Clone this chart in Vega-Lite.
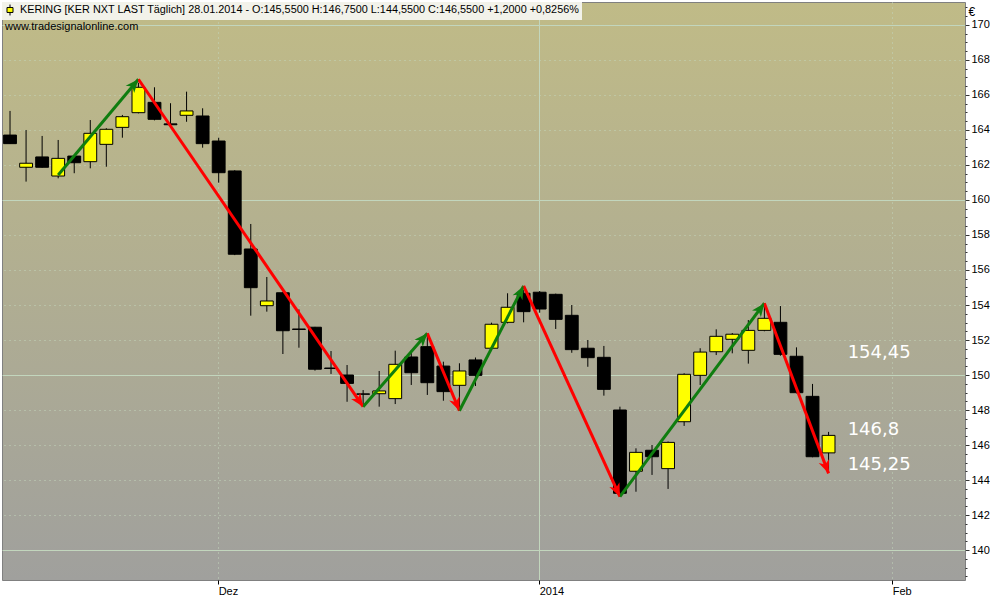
{
  "$schema": "https://vega.github.io/schema/vega-lite/v6.json",
  "width": 963,
  "height": 578,
  "padding": {"left": 2, "top": 2, "right": 0, "bottom": 0},
  "background": "#ffffff",
  "title": {
    "text": "www.tradesignalonline.com",
    "anchor": "start",
    "frame": "group",
    "offset": -30,
    "dx": 3,
    "font": "Liberation Sans",
    "fontSize": 11,
    "fontWeight": "normal",
    "color": "#000000"
  },
  "datasets": {
    "candles": [
      {"date": "2013-11-13", "open": 163.71, "high": 165.09, "low": 163.2, "close": 163.22},
      {"date": "2013-11-14", "open": 161.87, "high": 164.0, "low": 161.05, "close": 162.1},
      {"date": "2013-11-15", "open": 162.46, "high": 163.66, "low": 161.85, "close": 161.87},
      {"date": "2013-11-18", "open": 161.37, "high": 163.43, "low": 161.24, "close": 162.38},
      {"date": "2013-11-19", "open": 162.51, "high": 162.55, "low": 161.53, "close": 162.13},
      {"date": "2013-11-20", "open": 162.19, "high": 164.57, "low": 161.81, "close": 163.81},
      {"date": "2013-11-21", "open": 163.18, "high": 164.1, "low": 161.9, "close": 164.04},
      {"date": "2013-11-22", "open": 164.15, "high": 164.86, "low": 163.56, "close": 164.76},
      {"date": "2013-11-25", "open": 164.99, "high": 166.7, "low": 164.95, "close": 166.44},
      {"date": "2013-11-26", "open": 165.58, "high": 166.44, "low": 164.55, "close": 164.61},
      {"date": "2013-11-27", "open": 164.35, "high": 165.53, "low": 164.2, "close": 164.3},
      {"date": "2013-11-28", "open": 164.84, "high": 166.19, "low": 164.47, "close": 165.09},
      {"date": "2013-11-29", "open": 164.8, "high": 165.24, "low": 162.99, "close": 163.22},
      {"date": "2013-12-02", "open": 163.37, "high": 163.56, "low": 160.99, "close": 161.56},
      {"date": "2013-12-03", "open": 161.66, "high": 161.7, "low": 156.85, "close": 156.9},
      {"date": "2013-12-04", "open": 157.2, "high": 158.63, "low": 153.39, "close": 154.99},
      {"date": "2013-12-05", "open": 153.96, "high": 155.6, "low": 153.62, "close": 154.23},
      {"date": "2013-12-06", "open": 154.7, "high": 154.75, "low": 151.2, "close": 152.53},
      {"date": "2013-12-09", "open": 152.63, "high": 153.75, "low": 151.56, "close": 152.6},
      {"date": "2013-12-10", "open": 152.73, "high": 152.75, "low": 150.25, "close": 150.33},
      {"date": "2013-12-11", "open": 150.4, "high": 151.37, "low": 150.06, "close": 150.37},
      {"date": "2013-12-12", "open": 150.0, "high": 150.57, "low": 148.47, "close": 149.52},
      {"date": "2013-12-13", "open": 148.92, "high": 149.14, "low": 148.29, "close": 148.9},
      {"date": "2013-12-16", "open": 148.93, "high": 150.23, "low": 148.19, "close": 149.09},
      {"date": "2013-12-17", "open": 148.65, "high": 151.39, "low": 148.34, "close": 150.61},
      {"date": "2013-12-18", "open": 151.03, "high": 151.4, "low": 149.43, "close": 150.13},
      {"date": "2013-12-19", "open": 151.62, "high": 152.29, "low": 148.86, "close": 149.56},
      {"date": "2013-12-20", "open": 150.51, "high": 150.76, "low": 148.53, "close": 149.05},
      {"date": "2013-12-23", "open": 149.41, "high": 150.67, "low": 148.0, "close": 150.23},
      {"date": "2013-12-24", "open": 150.86, "high": 151.0, "low": 149.37, "close": 149.98},
      {"date": "2013-12-27", "open": 151.53, "high": 152.99, "low": 151.5, "close": 152.9},
      {"date": "2013-12-30", "open": 153.01, "high": 154.67, "low": 152.95, "close": 153.87},
      {"date": "2013-12-31", "open": 154.67, "high": 154.85, "low": 153.01, "close": 153.62},
      {"date": "2014-01-02", "open": 154.73, "high": 154.8, "low": 153.56, "close": 153.77},
      {"date": "2014-01-03", "open": 154.61, "high": 154.65, "low": 152.63, "close": 153.18},
      {"date": "2014-01-06", "open": 153.41, "high": 154.0, "low": 151.27, "close": 151.45},
      {"date": "2014-01-07", "open": 151.53, "high": 152.0, "low": 150.47, "close": 150.99},
      {"date": "2014-01-08", "open": 151.01, "high": 151.66, "low": 148.82, "close": 149.18},
      {"date": "2014-01-09", "open": 148.0, "high": 148.19, "low": 143.05, "close": 143.24},
      {"date": "2014-01-10", "open": 144.5, "high": 145.81, "low": 143.33, "close": 145.58},
      {"date": "2014-01-13", "open": 145.7, "high": 146.0, "low": 144.29, "close": 145.33},
      {"date": "2014-01-14", "open": 144.65, "high": 146.2, "low": 143.49, "close": 146.15},
      {"date": "2014-01-15", "open": 147.33, "high": 150.1, "low": 147.09, "close": 150.04},
      {"date": "2014-01-16", "open": 149.98, "high": 151.53, "low": 149.43, "close": 151.31},
      {"date": "2014-01-17", "open": 151.33, "high": 152.61, "low": 151.14, "close": 152.21},
      {"date": "2014-01-20", "open": 152.04, "high": 152.4, "low": 151.24, "close": 152.33},
      {"date": "2014-01-21", "open": 151.41, "high": 153.14, "low": 150.65, "close": 152.55},
      {"date": "2014-01-22", "open": 152.55, "high": 154.0, "low": 152.5, "close": 153.24},
      {"date": "2014-01-23", "open": 153.01, "high": 153.94, "low": 151.1, "close": 151.18},
      {"date": "2014-01-24", "open": 151.07, "high": 151.58, "low": 148.95, "close": 148.99},
      {"date": "2014-01-27", "open": 148.78, "high": 149.49, "low": 145.3, "close": 145.33},
      {"date": "2014-01-28", "open": 145.55, "high": 146.75, "low": 144.55, "close": 146.55}
    ],
    "swings": [
      {"d1": "2013-11-18", "v1": 161.43, "d2": "2013-11-25", "v2": 166.9, "dir": "up"},
      {"d1": "2013-11-25", "v1": 166.9, "d2": "2013-12-13", "v2": 148.19, "dir": "down"},
      {"d1": "2013-12-13", "v1": 148.19, "d2": "2013-12-19", "v2": 152.38, "dir": "up"},
      {"d1": "2013-12-19", "v1": 152.38, "d2": "2013-12-23", "v2": 147.96, "dir": "down"},
      {"d1": "2013-12-23", "v1": 147.96, "d2": "2013-12-31", "v2": 155.09, "dir": "up"},
      {"d1": "2013-12-31", "v1": 155.09, "d2": "2014-01-09", "v2": 143.05, "dir": "down"},
      {"d1": "2014-01-09", "v1": 143.05, "d2": "2014-01-22", "v2": 154.1, "dir": "up"},
      {"d1": "2014-01-22", "v1": 154.1, "d2": "2014-01-28", "v2": 144.38, "dir": "down"}
    ],
    "notes": [
      {"date": "2014-01-29", "value": 151.25, "label": "154,45"},
      {"date": "2014-01-29", "value": 146.85, "label": "146,8"},
      {"date": "2014-01-29", "value": 144.85, "label": "145,25"}
    ]
  },
  "resolve": {"axis": {"y": "independent"}},
  "layer": [
    {
      "data": {"name": "candles"},
      "mark": {"type": "rule", "color": "#000000", "strokeWidth": 1},
      "encoding": {
        "x": {
          "field": "date",
          "type": "ordinal",
          "scale": {
            "type": "band",
            "paddingInner": 0,
            "paddingOuter": 0,
            "domain": [
              "2013-11-13", "2013-11-14", "2013-11-15", "2013-11-18", "2013-11-19", "2013-11-20", "2013-11-21", "2013-11-22",
              "2013-11-25", "2013-11-26", "2013-11-27", "2013-11-28", "2013-11-29",
              "2013-12-02", "2013-12-03", "2013-12-04", "2013-12-05", "2013-12-06", "2013-12-09", "2013-12-10", "2013-12-11",
              "2013-12-12", "2013-12-13", "2013-12-16", "2013-12-17", "2013-12-18", "2013-12-19", "2013-12-20", "2013-12-23",
              "2013-12-24", "2013-12-27", "2013-12-30", "2013-12-31",
              "2014-01-02", "2014-01-03", "2014-01-06", "2014-01-07", "2014-01-08", "2014-01-09", "2014-01-10", "2014-01-13",
              "2014-01-14", "2014-01-15", "2014-01-16", "2014-01-17", "2014-01-20", "2014-01-21", "2014-01-22", "2014-01-23",
              "2014-01-24", "2014-01-27", "2014-01-28", "2014-01-29", "2014-01-30", "2014-01-31",
              "2014-02-03", "2014-02-04", "2014-02-05", "2014-02-06", "2014-02-07"
            ]
          },
          "axis": {
            "title": null,
            "orient": "bottom",
            "values": ["2013-12-02", "2014-01-02", "2014-02-03"],
            "labelExpr": "datum.value == '2013-12-02' ? 'Dez' : datum.value == '2014-01-02' ? '2014' : 'Feb'",
            "labelAngle": 0,
            "labelAlign": "left",
            "labelBaseline": "top",
            "labelPadding": 1,
            "labelFont": "Liberation Sans",
            "labelFontSize": 11,
            "labelColor": "#000000",
            "labelFlush": false,
            "labelOverlap": false,
            "tickSize": 4,
            "tickColor": "#000000",
            "domain": false,
            "grid": true,
            "gridColor": "#c2d6bd",
            "gridDash": {"condition": {"test": "datum.value == '2014-01-02'", "value": []}, "value": [1, 4]}
          }
        },
        "y": {
          "field": "low",
          "type": "quantitative",
          "scale": {"domain": [138.286, 171.314], "nice": false, "zero": false},
          "axis": {
            "orient": "right",
            "title": "€",
            "titleAngle": 0,
            "titleAlign": "left",
            "titleBaseline": "alphabetic",
            "titleX": 3,
            "titleY": 13,
            "titleFont": "Liberation Sans",
            "titleFontSize": 12,
            "titleFontWeight": "normal",
            "titleColor": "#000000",
            "values": [140, 142, 144, 146, 148, 150, 152, 154, 156, 158, 160, 162, 164, 166, 168, 170],
            "format": "d",
            "labelFont": "Liberation Sans",
            "labelFontSize": 11,
            "labelColor": "#000000",
            "labelPadding": 2,
            "labelBaseline": "middle",
            "labelFlush": false,
            "labelOverlap": false,
            "tickColor": "#333333",
            "tickSize": 4,
            "domain": false,
            "grid": true,
            "gridColor": "#c2d6bd",
            "gridDash": [1, 4]
          }
        },
        "y2": {"field": "high"}
      }
    },
    {
      "data": {"name": "candles"},
      "mark": {"type": "bar", "width": {"band": 0.8}, "stroke": "#000000", "strokeWidth": 1},
      "encoding": {
        "x": {"field": "date", "type": "ordinal"},
        "y": {
          "field": "open",
          "type": "quantitative",
          "axis": {
            "orient": "right",
            "title": null,
            "values": [140, 150, 160, 170],
            "labels": false,
            "ticks": false,
            "domain": false,
            "grid": true,
            "gridColor": "#c2d6bd",
            "gridDash": []
          }
        },
        "y2": {"field": "close"},
        "fill": {
          "condition": {"test": "datum.close < datum.open", "value": "#000000"},
          "datum": "KERING [KER NXT LAST Täglich] 28.01.2014 - O:145,5500 H:146,7500 L:144,5500 C:146,5500 +1,2000 +0,8256%",
          "type": "nominal",
          "scale": {"range": ["#ffff00"]},
          "legend": {
            "title": null,
            "orient": "top-left",
            "offset": 0,
            "padding": 2,
            "fillColor": "#f2f2ea",
            "labelFont": "Liberation Sans",
            "labelFontSize": 10.85,
            "labelColor": "#000000",
            "labelLimit": 0,
            "labelOffset": 4,
            "symbolType": "M-0.55,-0.45H0.55V0.45H-0.55Z M0,-1V-0.45 M0,0.45V1",
            "symbolSize": 120,
            "symbolStrokeColor": "#000000",
            "symbolStrokeWidth": 1
          }
        }
      }
    },
    {
      "data": {"name": "swings"},
      "mark": {"type": "rule", "strokeWidth": 3},
      "encoding": {
        "x": {"field": "d1", "type": "ordinal"},
        "x2": {"field": "d2"},
        "y": {
          "field": "v1",
          "type": "quantitative",
          "axis": {
            "orient": "right",
            "title": null,
            "values": [
              138.5, 139, 139.5, 140.5, 141, 141.5, 142.5, 143, 143.5, 144.5, 145, 145.5, 146.5,
              147, 147.5, 148.5, 149, 149.5, 150.5, 151, 151.5, 152.5, 153, 153.5, 154.5, 155,
              155.5, 156.5, 157, 157.5, 158.5, 159, 159.5, 160.5, 161, 161.5, 162.5, 163, 163.5,
              164.5, 165, 165.5, 166.5, 167, 167.5, 168.5, 169, 169.5, 170.5, 171
            ],
            "labels": false,
            "grid": false,
            "domain": false,
            "tickSize": 2,
            "tickColor": "#333333"
          }
        },
        "y2": {"field": "v2"},
        "color": {
          "field": "dir",
          "type": "nominal",
          "scale": {"domain": ["up", "down"], "range": ["#0f7d0f", "#ff0000"]},
          "legend": null
        }
      }
    },
    {
      "data": {"name": "swings"},
      "mark": {
        "type": "point",
        "shape": "M0,0L0.42,1L0,0.72L-0.42,1Z",
        "filled": true,
        "opacity": 1,
        "size": 700,
        "angle": {"expr": "atan2(scale('x', datum.d2) - scale('x', datum.d1), scale('y', datum.v1) - scale('y', datum.v2)) * 180 / PI"}
      },
      "encoding": {
        "x": {"field": "d2", "type": "ordinal"},
        "y": {"field": "v2", "type": "quantitative", "axis": null},
        "color": {"field": "dir", "type": "nominal", "legend": null}
      }
    },
    {
      "data": {"name": "notes"},
      "mark": {"type": "text", "align": "left", "baseline": "middle", "font": "DejaVu Sans", "fontSize": 18, "color": "#ffffff", "dx": 3},
      "encoding": {
        "x": {"field": "date", "type": "ordinal"},
        "y": {"field": "value", "type": "quantitative", "axis": null},
        "text": {"field": "label"}
      }
    }
  ],
  "config": {
    "font": "Liberation Sans",
    "view": {
      "stroke": "#808080",
      "strokeWidth": 1,
      "fill": {
        "gradient": "linear",
        "x1": 0, "y1": 0, "x2": 0, "y2": 1,
        "stops": [
          {"offset": 0, "color": "#c0bb87"},
          {"offset": 1, "color": "#a0a09d"}
        ]
      }
    }
  }
}
